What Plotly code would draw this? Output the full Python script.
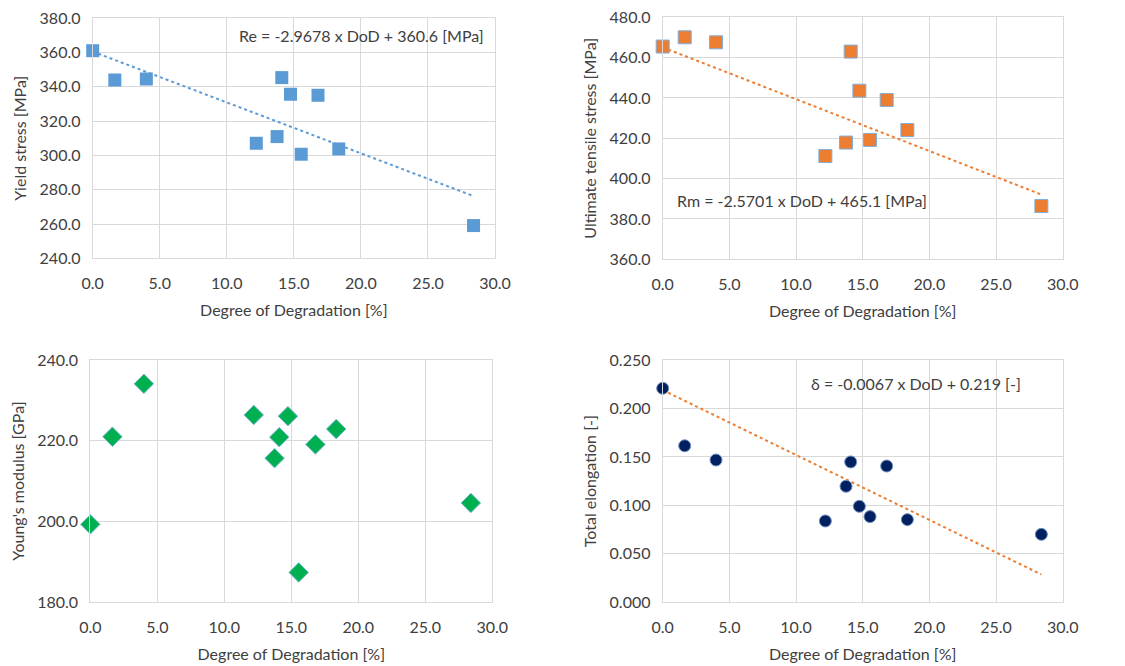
import plotly.graph_objects as go

# Data
dod = [0.0, 1.65, 4.0, 12.2, 13.75, 14.1, 14.75, 15.55, 16.8, 18.35, 28.4]
yield_stress = [361.1, 344.0, 344.6, 307.1, 311.0, 345.4, 335.7, 300.7, 335.1, 303.8, 259.1]
uts = [465.5, 470.1, 467.6, 411.2, 417.9, 463.0, 443.6, 419.2, 439.0, 424.1, 386.4]
youngs = [199.3, 221.0, 234.1, 226.4, 215.7, 220.9, 226.1, 187.4, 219.1, 222.9, 204.6]
elong = [0.2208, 0.1615, 0.1468, 0.0839, 0.1197, 0.1448, 0.0990, 0.0884, 0.1406, 0.0853, 0.0701]

# Trendline coefficients (from chart equations)
re_slope, re_int = -2.9678, 360.6
rm_slope, rm_int = -2.5701, 465.1
el_slope, el_int = -0.0067, 0.219
trend_x = [0.0, 28.4]

xtitle = "Degree of Degradation [%]"
FONT = "Lato, Open Sans, sans-serif"
TXT = "#404040"
GRID = "#D9D9D9"

W, H = 1125, 666
OFFX, OFFY = 7, 8  # page body margin
def dx(a, b):
    return [(a - OFFX) / W, (b - OFFX) / W]
def dy(top, bot):
    return [1 - (bot - OFFY) / H, 1 - (top - OFFY) / H]

fig = go.Figure()

# Panel 1
fig.add_trace(go.Scatter(x=trend_x, y=[re_int + re_slope * v for v in trend_x], mode="lines",
                         line=dict(color="#5B9BD5", width=2, dash="dot"), xaxis="x", yaxis="y", showlegend=False))
fig.add_trace(go.Scatter(x=dod, y=yield_stress, mode="markers", cliponaxis=False,
                         marker=dict(symbol="square", size=13, color="#5B9BD5", line=dict(width=0)),
                         xaxis="x", yaxis="y", showlegend=False))
# Panel 2
fig.add_trace(go.Scatter(x=trend_x, y=[rm_int + rm_slope * v for v in trend_x], mode="lines",
                         line=dict(color="#ED7D31", width=2, dash="dot"), xaxis="x2", yaxis="y2", showlegend=False))
fig.add_trace(go.Scatter(x=dod, y=uts, mode="markers", cliponaxis=False,
                         marker=dict(symbol="square", size=13, color="#ED7D31", line=dict(width=1, color="#7FAFDD")),
                         xaxis="x2", yaxis="y2", showlegend=False))
# Panel 3
fig.add_trace(go.Scatter(x=dod, y=youngs, mode="markers", cliponaxis=False,
                         marker=dict(symbol="diamond", size=15, color="#00B050", line=dict(width=1, color="#7FB8D8")),
                         xaxis="x3", yaxis="y3", showlegend=False))
# Panel 4
fig.add_trace(go.Scatter(x=trend_x, y=[el_int + el_slope * v for v in trend_x], mode="lines",
                         line=dict(color="#ED7D31", width=2, dash="dot"), xaxis="x4", yaxis="y4", showlegend=False))
fig.add_trace(go.Scatter(x=dod, y=elong, mode="markers", cliponaxis=False,
                         marker=dict(symbol="circle", size=12, color="#002060", line=dict(width=1, color="#6F8FC0")),
                         xaxis="x4", yaxis="y4", showlegend=False))

def xax(domain, anchor):
    return dict(domain=domain, anchor=anchor, range=[0, 30], dtick=5, tickformat=".1f",
                showgrid=True, gridcolor=GRID, gridwidth=1, zeroline=False,
                showline=True, linecolor=GRID, mirror=True, ticks="", automargin=False,
                ticklabelstandoff=10, ticklabeloverflow="allow",
                tickfont=dict(size=16, color=TXT, family=FONT),
                title=dict(text=xtitle, font=dict(size=16, color=TXT, family=FONT), standoff=14))

def yax(domain, anchor, rng, dt, fmt, title):
    return dict(domain=domain, anchor=anchor, range=rng, dtick=dt, tickformat=fmt,
                showgrid=True, gridcolor=GRID, gridwidth=1, zeroline=False,
                showline=True, linecolor=GRID, mirror=True, ticks="", automargin=False,
                ticklabelstandoff=8, ticklabeloverflow="allow",
                tickfont=dict(size=16, color=TXT, family=FONT),
                title=dict(text=title, font=dict(size=16, color=TXT, family=FONT), standoff=8))

fig.update_layout(
    width=W, height=H,
    margin=dict(l=0, r=0, t=0, b=0),
    paper_bgcolor="white", plot_bgcolor="white",
    xaxis=xax(dx(91.7, 494), "y"),
    yaxis=yax(dy(18.3, 258.3), "x", [240, 380], 20, ".1f", "Yield stress [MPa]"),
    xaxis2=xax(dx(661.7, 1061.7), "y2"),
    yaxis2=yax(dy(17.3, 259.3), "x2", [360, 480], 20, ".1f", "Ultimate tensile stress [MPa]"),
    xaxis3=xax(dx(89.3, 491.3), "y3"),
    yaxis3=yax(dy(360, 602.3), "x3", [180, 240], 20, ".1f", "Young's modulus [GPa]"),
    xaxis4=xax(dx(661.7, 1061.7), "y4"),
    yaxis4=yax(dy(360, 602.3), "x4", [0, 0.25], 0.05, ".3f", "Total elongation [-]"),
    annotations=[
        dict(text="Re = -2.9678 x DoD + 360.6 [MPa]", x=29.3, y=370.0, xref="x", yref="y",
             xanchor="right", yanchor="middle", showarrow=False, font=dict(size=16, color=TXT, family=FONT)),
        dict(text="Rm = -2.5701 x DoD + 465.1 [MPa]", x=0.9, y=389.3, xref="x2", yref="y2",
             xanchor="left", yanchor="middle", showarrow=False, font=dict(size=16, color=TXT, family=FONT)),
        dict(text="δ = -0.0067 x DoD + 0.219 [-]", x=11.0, y=0.2262, xref="x4", yref="y4",
             xanchor="left", yanchor="middle", showarrow=False, font=dict(size=16, color=TXT, family=FONT)),
    ],
)

fig.write_html("out.html")
